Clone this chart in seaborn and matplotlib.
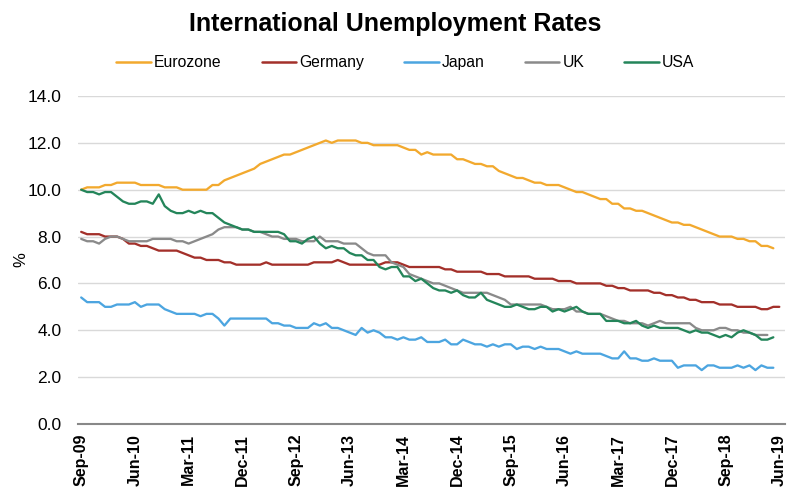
import matplotlib
matplotlib.use("Agg")
import matplotlib.pyplot as plt
import seaborn as sns
import pandas as pd
import numpy as np

months = pd.date_range("2009-09-01", "2019-06-01", freq="MS")
month_labels = [d.strftime("%b-%y") for d in months]

eurozone = [10.0, 10.1, 10.1, 10.1, 10.2, 10.2, 10.3, 10.3, 10.3, 10.3,
            10.2, 10.2, 10.2, 10.2, 10.1, 10.1, 10.1, 10.0, 10.0, 10.0,
            10.0, 10.0, 10.2, 10.2, 10.4, 10.5, 10.6, 10.7, 10.8, 10.9,
            11.1, 11.2, 11.3, 11.4, 11.5, 11.5, 11.6, 11.7, 11.8, 11.9,
            12.0, 12.1, 12.0, 12.1, 12.1, 12.1, 12.1, 12.0, 12.0, 11.9,
            11.9, 11.9, 11.9, 11.9, 11.8, 11.7, 11.7, 11.5, 11.6, 11.5,
            11.5, 11.5, 11.5, 11.3, 11.3, 11.2, 11.1, 11.1, 11.0, 11.0,
            10.8, 10.7, 10.6, 10.5, 10.5, 10.4, 10.3, 10.3, 10.2, 10.2,
            10.2, 10.1, 10.0, 9.9, 9.9, 9.8, 9.7, 9.6, 9.6, 9.4,
            9.4, 9.2, 9.2, 9.1, 9.1, 9.0, 8.9, 8.8, 8.7, 8.6,
            8.6, 8.5, 8.5, 8.4, 8.3, 8.2, 8.1, 8.0, 8.0, 8.0,
            7.9, 7.9, 7.8, 7.8, 7.6, 7.6, 7.5]

germany = [8.2, 8.1, 8.1, 8.1, 8.0, 8.0, 8.0, 7.9, 7.7, 7.7,
           7.6, 7.6, 7.5, 7.4, 7.4, 7.4, 7.4, 7.3, 7.2, 7.1,
           7.1, 7.0, 7.0, 7.0, 6.9, 6.9, 6.8, 6.8, 6.8, 6.8,
           6.8, 6.9, 6.8, 6.8, 6.8, 6.8, 6.8, 6.8, 6.8, 6.9,
           6.9, 6.9, 6.9, 7.0, 6.9, 6.8, 6.8, 6.8, 6.8, 6.8,
           6.8, 6.9, 6.9, 6.9, 6.8, 6.7, 6.7, 6.7, 6.7, 6.7,
           6.7, 6.6, 6.6, 6.5, 6.5, 6.5, 6.5, 6.5, 6.4, 6.4,
           6.4, 6.3, 6.3, 6.3, 6.3, 6.3, 6.2, 6.2, 6.2, 6.2,
           6.1, 6.1, 6.1, 6.0, 6.0, 6.0, 6.0, 6.0, 5.9, 5.9,
           5.8, 5.8, 5.7, 5.7, 5.7, 5.7, 5.6, 5.6, 5.5, 5.5,
           5.4, 5.4, 5.3, 5.3, 5.2, 5.2, 5.2, 5.1, 5.1, 5.1,
           5.0, 5.0, 5.0, 5.0, 4.9, 4.9, 5.0, 5.0]

japan = [5.4, 5.2, 5.2, 5.2, 5.0, 5.0, 5.1, 5.1, 5.1, 5.2,
         5.0, 5.1, 5.1, 5.1, 4.9, 4.8, 4.7, 4.7, 4.7, 4.7,
         4.6, 4.7, 4.7, 4.5, 4.2, 4.5, 4.5, 4.5, 4.5, 4.5,
         4.5, 4.5, 4.3, 4.3, 4.2, 4.2, 4.1, 4.1, 4.1, 4.3,
         4.2, 4.3, 4.1, 4.1, 4.0, 3.9, 3.8, 4.1, 3.9, 4.0,
         3.9, 3.7, 3.7, 3.6, 3.7, 3.6, 3.6, 3.7, 3.5, 3.5,
         3.5, 3.6, 3.4, 3.4, 3.6, 3.5, 3.4, 3.4, 3.3, 3.4,
         3.3, 3.4, 3.4, 3.2, 3.3, 3.3, 3.2, 3.3, 3.2, 3.2,
         3.2, 3.1, 3.0, 3.1, 3.0, 3.0, 3.0, 3.0, 2.9, 2.8,
         2.8, 3.1, 2.8, 2.8, 2.7, 2.7, 2.8, 2.7, 2.7, 2.7,
         2.4, 2.5, 2.5, 2.5, 2.3, 2.5, 2.5, 2.4, 2.4, 2.4,
         2.5, 2.4, 2.5, 2.3, 2.5, 2.4, 2.4]

uk = [7.9, 7.8, 7.8, 7.7, 7.9, 8.0, 8.0, 7.9, 7.8, 7.8,
      7.8, 7.8, 7.9, 7.9, 7.9, 7.9, 7.8, 7.8, 7.7, 7.8,
      7.9, 8.0, 8.1, 8.3, 8.4, 8.4, 8.4, 8.3, 8.3, 8.2,
      8.2, 8.1, 8.0, 8.0, 7.9, 7.9, 7.9, 7.8, 7.8, 7.8,
      8.0, 7.8, 7.8, 7.8, 7.7, 7.7, 7.7, 7.5, 7.3, 7.2,
      7.2, 7.2, 6.9, 6.8, 6.7, 6.4, 6.3, 6.2, 6.1, 6.0,
      6.0, 5.9, 5.8, 5.7, 5.6, 5.6, 5.6, 5.6, 5.6, 5.5,
      5.4, 5.3, 5.1, 5.1, 5.1, 5.1, 5.1, 5.1, 5.0, 4.9,
      4.9, 4.9, 5.0, 4.8, 4.8, 4.7, 4.7, 4.7, 4.6, 4.5,
      4.4, 4.4, 4.3, 4.3, 4.3, 4.2, 4.3, 4.4, 4.3, 4.3,
      4.3, 4.3, 4.3, 4.1, 4.0, 4.0, 4.0, 4.1, 4.1, 4.0,
      4.0, 3.9, 3.9, 3.8, 3.8, 3.8]

usa = [10.0, 9.9, 9.9, 9.8, 9.9, 9.9, 9.7, 9.5, 9.4, 9.4,
       9.5, 9.5, 9.4, 9.8, 9.3, 9.1, 9.0, 9.0, 9.1, 9.0,
       9.1, 9.0, 9.0, 8.8, 8.6, 8.5, 8.4, 8.3, 8.3, 8.2,
       8.2, 8.2, 8.2, 8.2, 8.1, 7.8, 7.8, 7.7, 7.9, 8.0,
       7.7, 7.5, 7.6, 7.5, 7.5, 7.3, 7.2, 7.2, 7.0, 7.0,
       6.7, 6.6, 6.7, 6.7, 6.3, 6.3, 6.1, 6.2, 6.0, 5.8,
       5.7, 5.7, 5.6, 5.7, 5.5, 5.4, 5.4, 5.6, 5.3, 5.2,
       5.1, 5.0, 5.0, 5.1, 5.0, 4.9, 4.9, 5.0, 5.0, 4.8,
       4.9, 4.8, 4.9, 5.0, 4.8, 4.7, 4.7, 4.7, 4.4, 4.4,
       4.4, 4.3, 4.3, 4.4, 4.2, 4.1, 4.2, 4.1, 4.1, 4.1,
       4.1, 4.0, 3.9, 4.0, 3.9, 3.9, 3.8, 3.7, 3.8, 3.7,
       3.9, 4.0, 3.9, 3.8, 3.6, 3.6, 3.7]

series = {"Eurozone": eurozone, "Germany": germany, "Japan": japan,
          "UK": uk, "USA": usa}
colors = {"Eurozone": "#F2A92E", "Germany": "#A3302A", "Japan": "#4CA5E0",
          "UK": "#8A8A8A", "USA": "#24855A"}

rows = []
for name, vals in series.items():
    for i, v in enumerate(vals):
        rows.append({"idx": i, "value": v, "Country": name})
df = pd.DataFrame(rows)

sns.set_theme(style="white")
plt.rcParams["font.family"] = ["Liberation Sans", "DejaVu Sans"]
plt.rcParams["text.color"] = "black"
plt.rcParams["xtick.color"] = "black"
plt.rcParams["ytick.color"] = "black"
plt.rcParams["axes.labelcolor"] = "black"

fig = plt.figure(figsize=(7.9, 4.91), dpi=100)
ax = fig.add_axes([0.099, 0.1365, 0.895, 0.668])

sns.lineplot(data=df, x="idx", y="value", hue="Country", palette=colors,
             linewidth=1.65, ax=ax, legend=False)

ax.set_ylim(0, 14)
ax.set_yticks(np.arange(0, 14.1, 2))
ax.set_yticklabels([f"{v:.1f}" for v in np.arange(0, 14.1, 2)], fontsize=12.5)
ax.set_xlim(-0.5, 118)
tick_idx = list(range(0, len(months), 9))
ax.set_xticks(tick_idx)
ax.set_xticklabels([month_labels[i] for i in tick_idx], rotation=90,
                   fontsize=11.5, fontweight="bold")
ax.set_xlabel("")
ax.set_ylabel("%", fontsize=12)
ax.yaxis.set_label_coords(-0.071, 0.5)
ax.grid(axis="y", color="#D9D9D9", linewidth=1)
ax.set_axisbelow(True)
for s in ["top", "right", "left"]:
    ax.spines[s].set_visible(False)
ax.spines["bottom"].set_color("#888888")
ax.spines["bottom"].set_linewidth(1.5)
ax.tick_params(axis="y", length=0, pad=12)
ax.tick_params(axis="x", length=0, pad=7)

handles = [plt.Line2D([0], [0], color=colors[n], lw=1.8) for n in series]
fig.legend(handles, list(series.keys()), loc="center", ncol=5,
           bbox_to_anchor=(0.513, 0.872), frameon=False, fontsize=11.3,
           handlelength=2.2, handletextpad=0.2, columnspacing=2.55)

fig.suptitle("International Unemployment Rates", fontsize=18,
             fontweight="bold", y=0.975, va="top")

fig.savefig("out.png", dpi=100)
